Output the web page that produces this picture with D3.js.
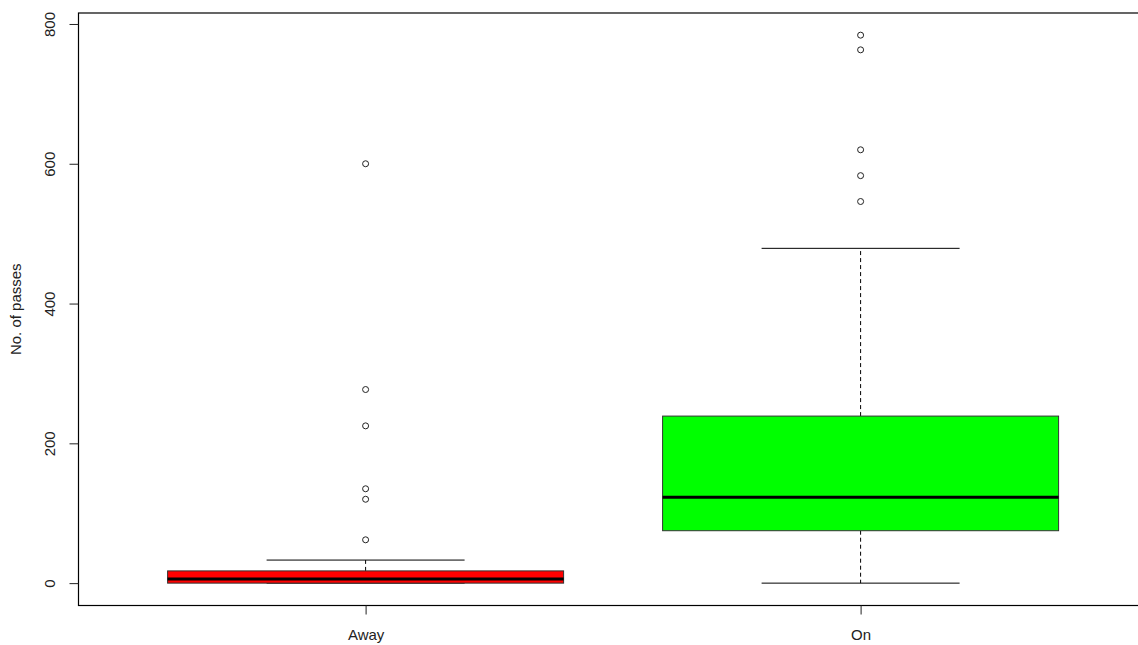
<!DOCTYPE html>
<html>
<head>
<meta charset="utf-8">
<script src="https://cdn.jsdelivr.net/npm/d3@7"></script>
<style>
  html, body { margin: 0; padding: 0; background: #fff; }
  svg { display: block; font-family: "Liberation Sans", Arial, sans-serif; }
</style>
</head>
<body>
<svg id="chart" width="1138" height="645"></svg>
<script>
// Passes per game, grouped by where the player was
const categories = ["Away", "On"];
const boxColors = ["#ff0000", "#00ff00"];
const whiskerLow = [0, 0];
const q1 = [0, 75];
const medians = [6, 123];
const q3 = [17.5, 239];
const whiskerHigh = [33, 479];
const outliers = [
  [600, 277, 225, 135, 120, 62],
  [784, 763, 620, 583, 546]
];
const yTicks = [0, 200, 400, 600, 800];

const svg = d3.select("#chart");
const plotLeft = 78.5, plotTop = 13, plotBottom = 605.5;
const plotRight = plotLeft + 2.16 * 495;

const x = d3.scaleLinear().domain([0.42, 2.58]).range([plotLeft, plotRight]);
const y = d3.scaleLinear().domain([-32, 815.7]).range([plotBottom, plotTop]);

const boxHalf = 0.4, capHalf = 0.2;

const groups = categories.map((c, i) => ({
  name: c, pos: i + 1, color: boxColors[i],
  lo: whiskerLow[i], q1: q1[i], med: medians[i], q3: q3[i], hi: whiskerHigh[i],
  out: outliers[i]
}));

const g = svg.append("g");

const box = g.selectAll("g.box").data(groups).enter().append("g").attr("class", "box");

// whiskers (dashed)
box.append("line")
  .attr("x1", d => x(d.pos)).attr("x2", d => x(d.pos))
  .attr("y1", d => y(d.q3)).attr("y2", d => y(d.hi))
  .attr("stroke", "#000").attr("stroke-width", 1).attr("stroke-dasharray", "4,3");
box.append("line")
  .attr("x1", d => x(d.pos)).attr("x2", d => x(d.pos))
  .attr("y1", d => y(d.q1)).attr("y2", d => y(d.lo))
  .attr("stroke", "#000").attr("stroke-width", 1).attr("stroke-dasharray", "4,3");
// whisker caps
box.append("line")
  .attr("x1", d => x(d.pos - capHalf)).attr("x2", d => x(d.pos + capHalf))
  .attr("y1", d => y(d.hi)).attr("y2", d => y(d.hi))
  .attr("stroke", "#000").attr("stroke-width", 1);
box.append("line")
  .attr("x1", d => x(d.pos - capHalf)).attr("x2", d => x(d.pos + capHalf))
  .attr("y1", d => y(d.lo)).attr("y2", d => y(d.lo))
  .attr("stroke", "#000").attr("stroke-width", 1);
// boxes
box.append("rect")
  .attr("x", d => x(d.pos - boxHalf))
  .attr("width", d => x(d.pos + boxHalf) - x(d.pos - boxHalf))
  .attr("y", d => y(d.q3))
  .attr("height", d => y(d.q1) - y(d.q3))
  .attr("fill", d => d.color)
  .attr("stroke", "#333").attr("stroke-width", 1);
// medians
box.append("line")
  .attr("x1", d => x(d.pos - boxHalf)).attr("x2", d => x(d.pos + boxHalf))
  .attr("y1", d => y(d.med)).attr("y2", d => y(d.med))
  .attr("stroke", "#000").attr("stroke-width", 3);
// outliers
box.selectAll("circle").data(d => d.out.map(v => ({ pos: d.pos, v })))
  .enter().append("circle")
  .attr("cx", d => x(d.pos)).attr("cy", d => y(d.v))
  .attr("r", 3)
  .attr("fill", "#fff").attr("stroke", "#222").attr("stroke-width", 1);

// plot frame
svg.append("rect")
  .attr("x", plotLeft).attr("y", plotTop)
  .attr("width", plotRight - plotLeft).attr("height", plotBottom - plotTop)
  .attr("fill", "none").attr("stroke", "#000").attr("stroke-width", 1.2);

// y axis
const yAxis = d3.axisLeft(y).tickValues(yTicks).tickSize(9).tickPadding(0).tickFormat(d3.format("d"));
const ya = svg.append("g").attr("transform", `translate(${plotLeft},0)`).call(yAxis);
ya.select(".domain").remove();
ya.selectAll(".tick line").attr("stroke", "#222");
ya.selectAll(".tick text")
  .attr("x", 0).attr("dy", null)
  .attr("transform", "translate(-29,0) rotate(-90)")
  .attr("text-anchor", "middle")
  .attr("dominant-baseline", "central")
  .attr("font-size", 15).attr("fill", "#222")
  .attr("font-family", "Liberation Sans, Arial, sans-serif");

// x axis
const xAxis = d3.axisBottom(x).tickValues(categories.map((c, i) => i + 1))
  .tickSize(9).tickPadding(0).tickFormat((d, i) => categories[i]);
const xa = svg.append("g").attr("transform", `translate(0,${plotBottom})`).call(xAxis);
xa.select(".domain").remove();
xa.selectAll(".tick line").attr("stroke", "#222");
xa.selectAll(".tick text")
  .attr("y", 29).attr("dy", null)
  .attr("dominant-baseline", "central")
  .attr("font-size", 15).attr("fill", "#222")
  .attr("font-family", "Liberation Sans, Arial, sans-serif");

// y axis title
svg.append("text")
  .attr("transform", `translate(15,${(plotTop + plotBottom) / 2}) rotate(-90)`)
  .attr("text-anchor", "middle")
  .attr("dominant-baseline", "central")
  .attr("font-size", 15).attr("fill", "#222")
  .text("No. of passes");
</script>
</body>
</html>
